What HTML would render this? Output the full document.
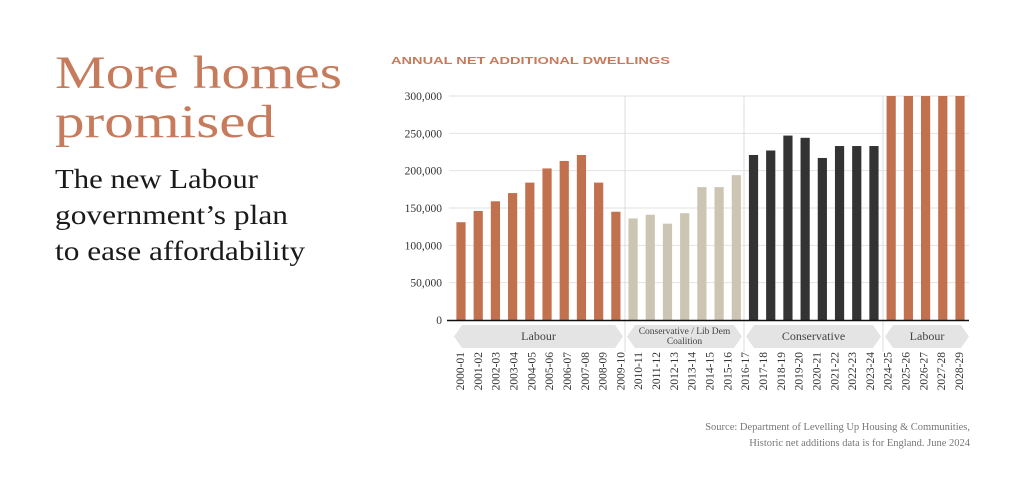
<!DOCTYPE html>
<html><head><meta charset="utf-8"><style>
html,body{margin:0;padding:0;background:#fff;}
svg{display:block;}
</style></head><body>
<svg width="1024" height="499" viewBox="0 0 1024 499" xmlns="http://www.w3.org/2000/svg">
<rect width="1024" height="499" fill="#fff"/>
<g font-family="Liberation Serif, serif">
<text x="55" y="88" font-size="47" fill="#c67c5c" textLength="287" lengthAdjust="spacingAndGlyphs">More homes</text>
<text x="55" y="137" font-size="47" fill="#c67c5c" textLength="220" lengthAdjust="spacingAndGlyphs">promised</text>
<text x="55" y="188" font-size="27" fill="#1a1a1a" textLength="203" lengthAdjust="spacingAndGlyphs">The new Labour</text>
<text x="55" y="224" font-size="27" fill="#1a1a1a" textLength="233" lengthAdjust="spacingAndGlyphs">government’s plan</text>
<text x="55" y="260" font-size="27" fill="#1a1a1a" textLength="250" lengthAdjust="spacingAndGlyphs">to ease affordability</text>
</g>
<text x="391" y="64" font-family="Liberation Sans, sans-serif" font-weight="bold" font-size="10" fill="#c67c5c" textLength="279" lengthAdjust="spacingAndGlyphs">ANNUAL NET ADDITIONAL DWELLINGS</text>
<g id="chart"></g>
<g font-family="Liberation Serif, serif" font-size="10.5" fill="#777" text-anchor="end">
<text x="970" y="430">Source: Department of Levelling Up Housing &amp; Communities,</text>
<text x="970" y="446">Historic net additions data is for England. June 2024</text>
</g>
</svg>
<script>
(function(){
var ns="http://www.w3.org/2000/svg",g=document.getElementById("chart");
function el(t,a,txt){var e=document.createElementNS(ns,t);for(var k in a)e.setAttribute(k,a[k]);if(txt!=null)e.textContent=txt;g.appendChild(e);return e;}
var y0=320,ppk=224/300;
// gridlines
for(var i=0;i<=6;i++){var y=y0-i*50*ppk;
 if(i>0)el("line",{x1:449,x2:969,y1:y,y2:y,stroke:"#e2e2e2","stroke-width":1});
 el("text",{x:442,y:y+4,"font-family":"Liberation Serif, serif","font-size":"11.5",fill:"#333","text-anchor":"end"},i==0?"0":(i*50)+",000");}
// dividers
[625,744,883].forEach(function(x){el("line",{x1:x,x2:x,y1:96,y2:352,stroke:"#dcdcdc","stroke-width":1});});
var vals=[131,146,159,170,184,203,213,221,184,145,136,141,129,143,178,178,194,221,227,247,244,217,233,233,233,300,300,300,300,300];
var cols=[];for(i=0;i<30;i++)cols.push(i<10?"#c2714f":i<17?"#cdc5b4":i<25?"#333333":"#c2714f");
var sp=(960-461)/29;
for(i=0;i<30;i++){var cx=461+i*sp,h=vals[i]*ppk;
 el("rect",{x:cx-4.6,y:y0-h,width:9.2,height:h,fill:cols[i]});}
el("line",{x1:447,x2:969,y1:320.5,y2:320.5,stroke:"#111","stroke-width":1.5});
// bands
function band(a,b,label,two){
 var t=325,bt=348,m=(t+bt)/2;
 el("polygon",{points:a+","+m+" "+(a+8)+","+t+" "+(b-8)+","+t+" "+b+","+m+" "+(b-8)+","+bt+" "+(a+8)+","+bt,fill:"#e4e4e4"});
 var cx=(a+b)/2;
 if(two){el("text",{x:cx,y:334,"font-family":"Liberation Serif, serif","font-size":"9.5",fill:"#444","text-anchor":"middle"},label);
  el("text",{x:cx,y:344,"font-family":"Liberation Serif, serif","font-size":"9.5",fill:"#444","text-anchor":"middle"},"Coalition");}
 else el("text",{x:cx,y:340,"font-family":"Liberation Serif, serif","font-size":"12",fill:"#444","text-anchor":"middle"},label);
}
band(454,623,"Labour");band(627,742,"Conservative / Lib Dem",true);band(746,881,"Conservative");band(885,969,"Labour");
// x labels
var sp2=(959-460)/28;
for(i=0;i<29;i++){var yr=2000+i,lab=yr+"-"+String((yr+1)%100).padStart(2,"0");
 var x=460+i*sp2+4;
 el("text",{x:0,y:0,transform:"translate("+x+",352) rotate(-90)","font-family":"Liberation Serif, serif","font-size":"11.5",fill:"#333","text-anchor":"end"},lab);}
})();
</script>
</body></html>
